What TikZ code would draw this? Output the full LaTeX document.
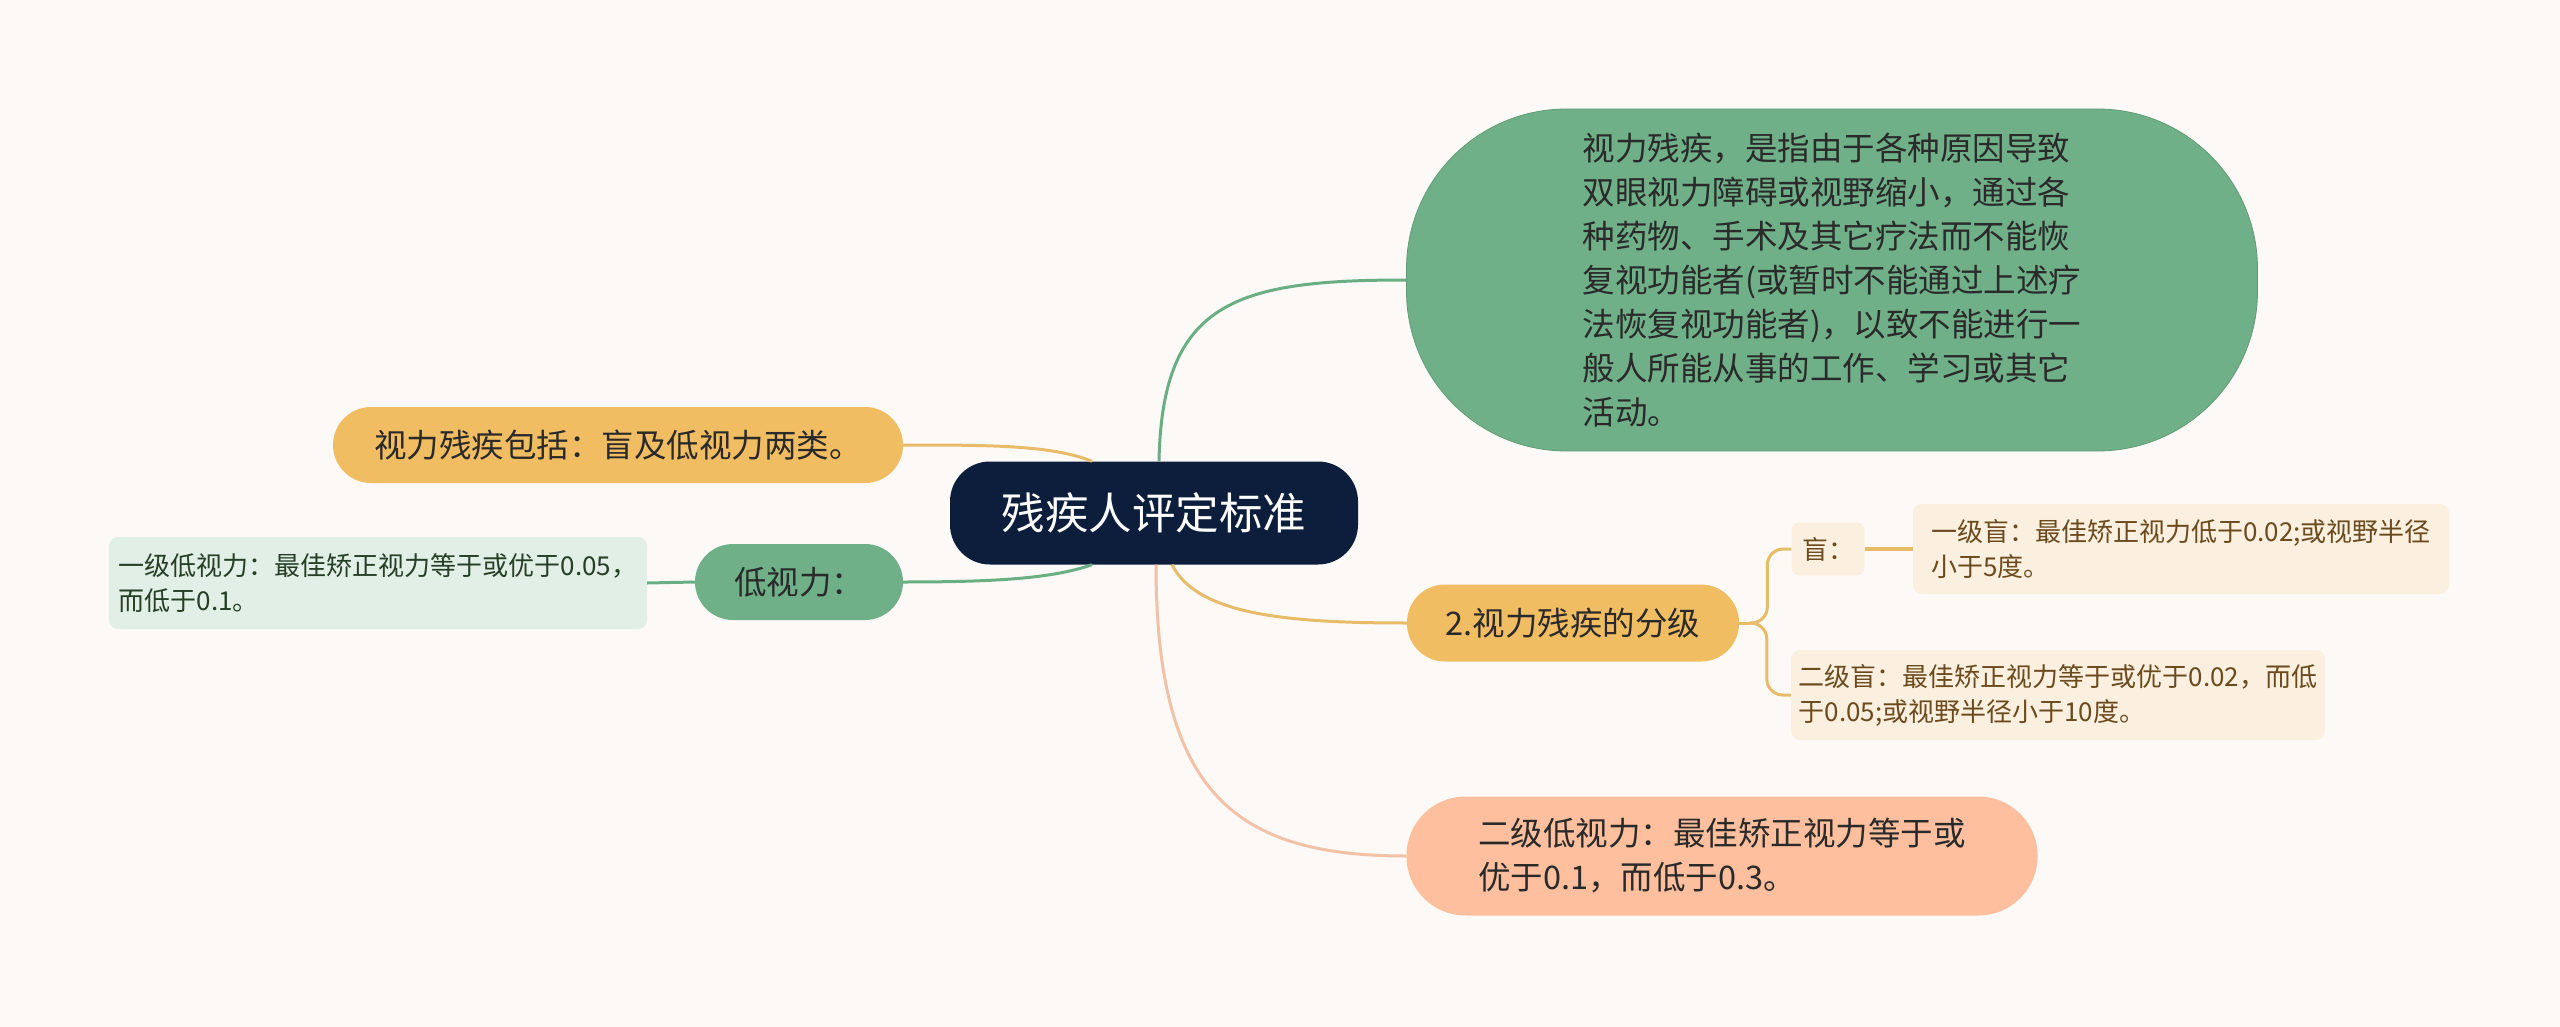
\documentclass[tikz,border=0pt]{standalone}
\usepackage{fontspec}
\setmainfont{Noto Sans CJK SC}
\definecolor{bgc}{HTML}{FCF9F7}
\definecolor{rootc}{HTML}{0C1E3B}
\definecolor{greenc}{HTML}{6FB088}
\definecolor{greenl}{HTML}{6AAE84}
\definecolor{orangec}{HTML}{F1BD63}
\definecolor{orangel}{HTML}{E8BB68}
\definecolor{salmonc}{HTML}{FDBF9D}
\definecolor{salmonl}{HTML}{F3C2A6}
\definecolor{lgreenc}{HTML}{E1EFE6}
\definecolor{beigec}{HTML}{FBF0DF}
\definecolor{brownt}{HTML}{6B4A1E}
\definecolor{darkt}{HTML}{2A2A2A}
\begin{document}
\begin{tikzpicture}[x=1pt,y=-1pt,
  base/.style={inner sep=0pt, text=darkt, align=left},
  bigtxt/.style={font=\fontsize{32.5}{44}\selectfont},
  smalltxt/.style={font=\fontsize{26}{35}\selectfont},
  gline/.style={draw=greenl, line width=3pt},
  oline/.style={draw=orangel, line width=3pt},
  sline/.style={draw=salmonl, line width=3pt},
  bline/.style={draw=orangel, line width=3pt}
]
\fill[bgc] (0,0) rectangle (2560,1027);
\useasboundingbox (0,0) rectangle (2560,1027);

% root
\node[base, fill=rootc, text=white, rounded corners=40, minimum width=408pt, minimum height=103pt,
  font=\fontsize{43.5}{50}\selectfont] (root) at (1154,513) {残疾人评定标准};

% big green
\node[base, bigtxt, fill=greenc, draw=greenl!90!black, line width=0.8pt, rounded corners=160,
  minimum width=851pt, minimum height=342pt] (big) at (1832,280)
  {视力残疾，是指由于各种原因导致\\双眼视力障碍或视野缩小，通过各\\种药物、手术及其它疗法而不能恢\\复视功能者(或暂时不能通过上述疗\\法恢复视功能者)，以致不能进行一\\般人所能从事的工作、学习或其它\\活动。};

% left orange
\node[base, bigtxt, fill=orangec, rounded corners=38, minimum width=570pt, minimum height=76pt]
  (inc) at (618,445) {视力残疾包括：盲及低视力两类。};

% low vision
\node[base, bigtxt, fill=greenc, rounded corners=38, minimum width=208pt, minimum height=76pt]
  (low) at (799,582) {低视力：};

% light green
\node[base, smalltxt, fill=lgreenc, text=darkt!90!green, rounded corners=9, minimum width=538pt, minimum height=92pt]
  (lg) at (378,583) {一级低视力：最佳矫正视力等于或优于0.05，\\而低于0.1。};

% classification
\node[base, bigtxt, fill=orangec, rounded corners=38, minimum width=332pt, minimum height=77pt]
  (fen) at (1573,623) {2.视力残疾的分级};

% blind
\node[base, smalltxt, fill=beigec, text=brownt, rounded corners=8, minimum width=73pt, minimum height=53pt]
  (mang) at (1828,549) {盲：};

\node[base, smalltxt, fill=beigec, text=brownt, rounded corners=9, minimum width=536pt, minimum height=90pt]
  (yi) at (2181,549) {一级盲：最佳矫正视力低于0.02;或视野半径\\小于5度。};

\node[base, smalltxt, fill=beigec, text=brownt, rounded corners=9, minimum width=534pt, minimum height=90pt]
  (er2) at (2058,695) {二级盲：最佳矫正视力等于或优于0.02，而低\\于0.05;或视野半径小于10度。};

% salmon
\node[base, bigtxt, fill=salmonc, rounded corners=59, minimum width=631pt, minimum height=119pt]
  (er) at (1722,856) {二级低视力：最佳矫正视力等于或\\优于0.1，而低于0.3。};

% connectors
\draw[gline] ([xshift=5pt]root.north) .. controls +(3,-160) and +(-170,0) .. (big.west);
\draw[oline] ([xshift=-62pt]root.north) .. controls +(-40,-16) and +(90,0) .. (inc.east);
\draw[gline] ([xshift=-62pt]root.south) .. controls +(-40,14) and +(90,0) .. (low.east);
\draw[oline] ([xshift=18pt]root.south) .. controls +(25,50) and +(-120,0) .. (fen.west);
\draw[sline] ([xshift=2pt]root.south) .. controls +(0,230) and +(-170,0) .. (er.west);
\draw[gline] (low.west) -- (lg.east);

\draw[bline] (fen.east) -- ++(10,0) coordinate (bj);
\draw[bline, rounded corners=16] (bj) -| ([xshift=-24pt]mang.west) -- (mang.west);
\draw[bline, rounded corners=16] (bj) -| ([xshift=-24pt]er2.west) -- (er2.west);
\draw[draw=orangel, line width=4pt] (mang.east) -- (yi.west);
\end{tikzpicture}
\end{document}
